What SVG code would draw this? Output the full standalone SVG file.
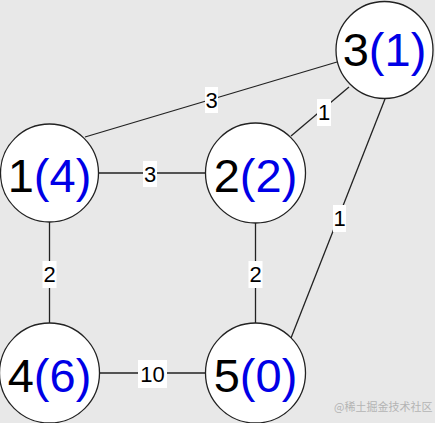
<svg xmlns="http://www.w3.org/2000/svg" width="435" height="423" viewBox="0 0 435 423">
<style>
.node circle{fill:#fff;stroke:#222;stroke-width:1.3}
.node text{font-family:"Liberation Sans",Arial,sans-serif;font-size:47px;text-anchor:middle;fill:#000}
.node tspan.d{fill:#0000e6}
.edges line{stroke:#222;stroke-width:1.3}
.lbl rect{fill:#fff}
.lbl text{font-family:"Liberation Sans",Arial,sans-serif;font-size:22px;text-anchor:middle;fill:#000}
.wm{font-family:"Noto Sans CJK SC","Liberation Sans",sans-serif;font-size:11px;fill:#b4b4b4}
</style>
<rect width="435" height="423" fill="#e8e8e8"/>
<g id="edges" class="edges">
<line x1="98" y1="173" x2="206" y2="173"/>
<line x1="49.5" y1="222" x2="49.5" y2="324"/>
<line x1="255.5" y1="222" x2="255.5" y2="324"/>
<line x1="99" y1="373" x2="206" y2="373"/>
<line x1="85" y1="137" x2="337" y2="62"/>
<line x1="291" y1="136" x2="349" y2="87"/>
<line x1="385" y1="99" x2="291" y2="338"/>
</g>
<g id="edge-labels" class="lbl">
<rect x="143" y="161" width="14" height="26"/><text x="150" y="182">3</text>
<rect x="42.5" y="261" width="14" height="27"/><text x="49.5" y="282">2</text>
<rect x="248.5" y="261" width="14" height="27"/><text x="255.5" y="282">2</text>
<rect x="138" y="360" width="29" height="28"/><text x="152.5" y="382">10</text>
<rect x="205" y="87" width="13" height="26"/><text x="211.5" y="108">3</text>
<rect x="317" y="99" width="14" height="27"/><text x="324" y="120">1</text>
<rect x="333" y="205" width="13" height="27"/><text x="339.5" y="226">1</text>
</g>
<g id="node1" class="node"><circle cx="49.5" cy="173" r="49"/><text x="49.5" y="192">1<tspan class="d">(4)</tspan></text></g>
<g id="node2" class="node"><circle cx="255.5" cy="173" r="50"/><text x="255.5" y="192">2<tspan class="d">(2)</tspan></text></g>
<g id="node3" class="node"><circle cx="384.5" cy="50" r="48.5"/><text x="384.5" y="66">3<tspan class="d">(1)</tspan></text></g>
<g id="node4" class="node"><circle cx="49.5" cy="373" r="50"/><text x="49.5" y="392">4<tspan class="d">(6)</tspan></text></g>
<g id="node5" class="node"><circle cx="255.5" cy="373" r="50"/><text x="255.5" y="392">5<tspan class="d">(0)</tspan></text></g>
<text class="wm" x="334" y="411">@稀土掘金技术社区</text>
</svg>
